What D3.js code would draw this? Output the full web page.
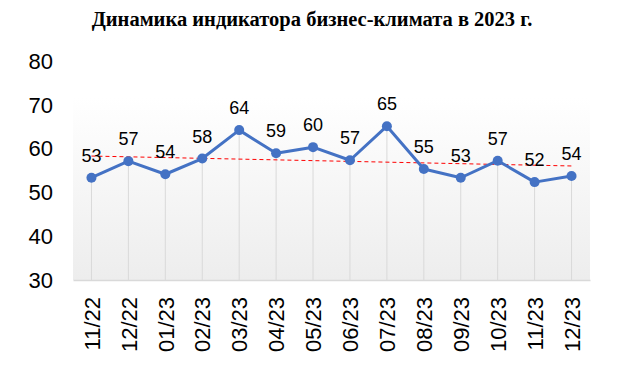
<!DOCTYPE html>
<html>
<head>
<meta charset="utf-8">
<script src="https://cdn.jsdelivr.net/npm/d3@7"></script>
<style>
  body { margin: 0; background: #fff; }
  svg text { font-family: "Liberation Sans", Arial, sans-serif; fill: #000; }
</style>
</head>
<body>
<div id="chart"></div>
<script>
// chart data
const months = ["11/22", "12/22", "01/23", "02/23", "03/23", "04/23", "05/23",
  "06/23", "07/23", "08/23", "09/23", "10/23", "11/23", "12/23"];
const values = [53.4, 57.2, 54.2, 57.8, 64.3, 59.0, 60.4, 57.4, 65.2, 55.4, 53.4, 57.3, 52.4, 53.8];
const yTicks = [30, 40, 50, 60, 70, 80];
const title = "Динамика индикатора бизнес-климата в 2023 г.";

const W = 623, H = 373;
const margin = { top: 61.5, right: 33, bottom: 93, left: 73 };
const width = W - margin.left - margin.right,
  height = H - margin.top - margin.bottom;

const svg = d3.select("#chart").append("svg")
  .attr("width", W)
  .attr("height", H);

svg.append("text")
  .attr("x", 312)
  .attr("y", 26)
  .attr("text-anchor", "middle")
  .style("font-family", "'Liberation Serif', 'Times New Roman', serif")
  .style("font-weight", "bold")
  .style("font-size", "20.5px")
  .text(title);

const g = svg.append("g")
  .attr("transform", "translate(" + margin.left + "," + margin.top + ")");

const x = d3.scalePoint()
  .domain(months)
  .range([0, width])
  .padding(0.5);

const y = d3.scaleLinear()
  .domain([30, 80])
  .range([height, 0]);

// plot background, light gradient
const grad = svg.append("defs").append("linearGradient")
  .attr("id", "bg")
  .attr("x1", 0).attr("y1", 0).attr("x2", 0).attr("y2", 1);
grad.append("stop").attr("offset", "0%").attr("stop-color", "#ffffff");
grad.append("stop").attr("offset", "100%").attr("stop-color", "#ededed");

g.append("rect")
  .attr("x", 0)
  .attr("y", y(70) - 8)
  .attr("width", width)
  .attr("height", height - y(70) + 8)
  .attr("fill", "url(#bg)");

// y axis labels only
const yAxis = g.append("g")
  .call(d3.axisLeft(y).tickValues(yTicks).tickSize(0).tickPadding(20));
yAxis.select(".domain").remove();
yAxis.selectAll("text")
  .style("font-size", "22px")
  .attr("font-family", null);

// x axis
const xAxis = g.append("g")
  .attr("transform", "translate(0," + height + ")")
  .call(d3.axisBottom(x).tickSize(0));
xAxis.select(".domain").attr("stroke", "#d9d9d9").attr("stroke-width", 1.5);
xAxis.selectAll("text")
  .attr("font-family", null)
  .style("font-size", "22px")
  .attr("transform", "rotate(-90)")
  .attr("text-anchor", "end")
  .attr("dy", "0.35em")
  .attr("x", -17)
  .attr("y", 0);

// drop lines
g.append("g").selectAll("line")
  .data(values)
  .join("line")
  .attr("x1", (d, i) => x(months[i]))
  .attr("x2", (d, i) => x(months[i]))
  .attr("y1", d => y(d))
  .attr("y2", height)
  .attr("stroke", "#d9d9d9")
  .attr("stroke-width", 1);

// linear trend
const n = values.length;
const xm = d3.mean(values, (d, i) => i);
const ym = d3.mean(values);
const slope = d3.sum(values, (d, i) => (i - xm) * (d - ym)) / d3.sum(values, (d, i) => (i - xm) * (i - xm));
const icpt = ym - slope * xm;
g.append("line")
  .attr("x1", x(months[0]))
  .attr("x2", x(months[n - 1]))
  .attr("y1", y(icpt))
  .attr("y2", y(icpt + slope * (n - 1)))
  .attr("stroke", "#ff0000")
  .attr("stroke-width", 1)
  .attr("stroke-dasharray", "4,3");

// main line
const line = d3.line()
  .x((d, i) => x(months[i]))
  .y(d => y(d));

g.append("path")
  .datum(values)
  .attr("fill", "none")
  .attr("stroke", "#4472c4")
  .attr("stroke-width", 3)
  .attr("stroke-linejoin", "round")
  .attr("d", line);

g.append("g").selectAll("circle")
  .data(values)
  .join("circle")
  .attr("cx", (d, i) => x(months[i]))
  .attr("cy", d => y(d))
  .attr("r", 5)
  .attr("fill", "#4472c4");

g.append("g").selectAll("text")
  .data(values)
  .join("text")
  .attr("x", (d, i) => x(months[i]))
  .attr("y", d => y(d) - 16)
  .attr("text-anchor", "middle")
  .style("font-size", "18px")
  .text(d => Math.round(d));
</script>
</body>
</html>
